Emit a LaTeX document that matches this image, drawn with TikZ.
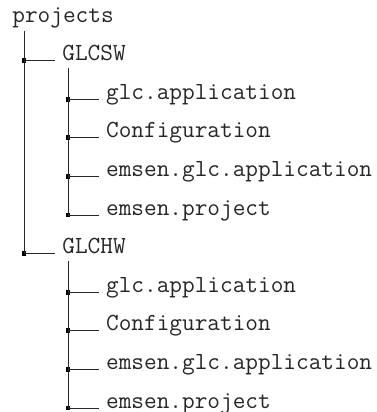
\documentclass[tikz,border=0pt]{standalone}
\usetikzlibrary{positioning}

\begin{document}
\begin{tikzpicture}[
  x=0.5pt, y=-0.5pt,
  entry/.style={anchor=base west, inner sep=0pt, font=\ttfamily\fontsize{12.3}{14}\selectfont, text=black!85},
  branch/.style={line width=0.5pt, black!85},
  knot/.style={rectangle, fill=black, minimum size=2.4pt, inner sep=0pt},
]
\useasboundingbox (0,0) rectangle (376,412);

% === ROOT ===
\node[entry] (projects) at (12,22) {projects};
\coordinate (projects-stem) at (24,30.7);

% === LEVEL 1 ===
\node[entry] (glcsw) at (62,60.6) {GLCSW};
\node[entry] (glchw) at (62,253.6) {GLCHW};
\coordinate (glcsw-stem) at (68,68.3);
\coordinate (glchw-stem) at (68,261.3);

\node[knot] (k-glcsw) at (24,60.6) {};
\node[knot] (k-glchw) at (24,253.6) {};

\draw[branch] (projects-stem) -- (k-glchw.center);
\draw[branch] (k-glcsw.center) -- ([xshift=-3.5pt]glcsw.base west);
\draw[branch] (k-glchw.center) -- ([xshift=-3.5pt]glchw.base west);

% === LEVEL 2: GLCSW ===
\node[entry] (sw-app) at (105.7,99.2) {glc.application};
\node[entry] (sw-conf) at (105.7,137.8) {Configuration};
\node[entry] (sw-eapp) at (105.7,176.4) {emsen.glc.application};
\node[entry] (sw-proj) at (105.7,215) {emsen.project};

\node[knot] (k-sw-app) at (68,99.2) {};
\node[knot] (k-sw-conf) at (68,137.8) {};
\node[knot] (k-sw-eapp) at (68,176.4) {};
\node[knot] (k-sw-proj) at (68,215) {};

\draw[branch] (glcsw-stem) -- (k-sw-proj.center);
\draw[branch] (k-sw-app.center) -- ([xshift=-3.5pt]sw-app.base west);
\draw[branch] (k-sw-conf.center) -- ([xshift=-3.5pt]sw-conf.base west);
\draw[branch] (k-sw-eapp.center) -- ([xshift=-3.5pt]sw-eapp.base west);
\draw[branch] (k-sw-proj.center) -- ([xshift=-3.5pt]sw-proj.base west);

% === LEVEL 2: GLCHW ===
\node[entry] (hw-app) at (105.7,292.2) {glc.application};
\node[entry] (hw-conf) at (105.7,330.8) {Configuration};
\node[entry] (hw-eapp) at (105.7,369.4) {emsen.glc.application};
\node[entry] (hw-proj) at (105.7,408) {emsen.project};

\node[knot] (k-hw-app) at (68,292.2) {};
\node[knot] (k-hw-conf) at (68,330.8) {};
\node[knot] (k-hw-eapp) at (68,369.4) {};
\node[knot] (k-hw-proj) at (68,408) {};

\draw[branch] (glchw-stem) -- (k-hw-proj.center);
\draw[branch] (k-hw-app.center) -- ([xshift=-3.5pt]hw-app.base west);
\draw[branch] (k-hw-conf.center) -- ([xshift=-3.5pt]hw-conf.base west);
\draw[branch] (k-hw-eapp.center) -- ([xshift=-3.5pt]hw-eapp.base west);
\draw[branch] (k-hw-proj.center) -- ([xshift=-3.5pt]hw-proj.base west);

\end{tikzpicture}
\end{document}
